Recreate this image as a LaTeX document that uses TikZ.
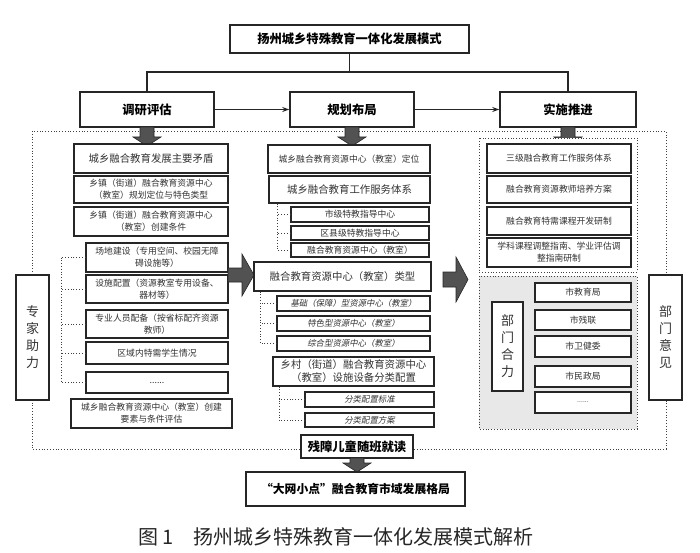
\documentclass[tikz,border=0pt]{standalone}
\usepackage{fontspec}
\setmainfont{Noto Sans CJK SC}
\newfontfamily\slfont[FakeSlant=0.2]{Noto Sans CJK SC}
\usetikzlibrary{arrows.meta}
\newcommand{\bx}[7]{\node[#1,minimum width={#4pt-#2pt},minimum height={#5pt-#3pt}] (#6) at ({(#2+#4)/2},{(#3+#5)/2}) {#7};}
\newcommand{\darr}[3]{\filldraw[blockarrow] ({#1-7},{#2}) -- ({#1+7},{#2}) -- ({#1+7},{#3-9}) -- ({#1+14},{#3-9}) -- ({#1},{#3}) -- ({#1-14},{#3-9}) -- ({#1-7},{#3-9}) -- cycle;}
\tikzset{
  box/.style={draw=black!85,line width=1.1pt,fill=white,inner sep=0pt,align=center,text=black!80},
  mainbox/.style={box,line width=1.5pt,text=black,font=\bfseries\fontsize{12.3}{14}\selectfont},
  big/.style={box,font=\fontsize{10.4}{13}\selectfont},
  small/.style={box,font=\fontsize{8.8}{12}\selectfont},
  slant/.style={box,font=\slfont\fontsize{8.4}{10}\selectfont},
  vbox/.style={box,font=\fontsize{13}{17}\selectfont},
  dotline/.style={dotted,line width=0.8pt,draw=black!75},
  conn/.style={line width=1.1pt,draw=black!85},
  blockarrow/.style={fill=black!68,draw=black!85,line width=0.6pt},
}
\begin{document}
\begin{tikzpicture}[x=1pt,y=-1pt]
\useasboundingbox (0,0) rectangle (700,553);
% top
\bx{mainbox}{230}{25}{469}{53}{top}{扬州城乡特殊教育一体化发展模式}
\bx{mainbox}{80}{92}{214}{127}{yan}{调研评估}
\bx{mainbox}{290}{92}{414}{127}{gui}{规划布局}
\bx{mainbox}{500}{92}{636}{127}{shi}{实施推进}
\coordinate (hy) at (0,72);
\draw[conn] (top.south) -- (top.south |- hy) -| (yan.north);
\draw[conn] (top.south |- hy) -| (shi.north);
\draw[conn,-{Stealth[length=7pt,width=5pt]}] (yan.east) -- (gui.west);
\draw[conn,-{Stealth[length=7pt,width=5pt]}] (gui.east) -- (shi.west);
% big frame
\draw[dotline] (32,131) rectangle (666,449);
\darr{147}{127}{146}
\darr{352}{127}{146}
\darr{568}{127}{146}
% left column
\bx{big}{74}{144}{228}{173}{L1}{城乡融合教育发展主要矛盾}
\bx{small}{74}{176}{228}{203}{L2}{乡镇（街道）融合教育资源中心\\（教室）规划定位与特色类型}
\bx{small}{74}{207}{228}{236}{L3}{乡镇（街道）融合教育资源中心\\（教室）创建条件}
\bx{small}{86}{243}{228}{272}{L4}{场地建设（专用空间、校园无障\\碍设施等）}
\bx{small}{86}{275}{228}{303}{L5}{设施配置（资源教室专用设备、\\器材等）}
\bx{small}{86}{310}{228}{338}{L6}{专业人员配备（按省标配齐资源\\教师）}
\bx{small}{86}{342}{228}{364}{L7}{区域内特需学生情况}
\bx{small}{86}{372}{228}{393}{L8}{......}
\bx{small}{71}{399}{232}{428}{L9}{城乡融合教育资源中心（教室）创建\\要素与条件评估}
\bx{vbox}{16}{275}{49}{400}{zj}{专\\家\\助\\力}
\coordinate (lbx) at (61,0);
\draw[dotline] (L4.west -| lbx) -- (L8.west -| lbx);
\foreach \n in {L4,L5,L6,L7,L8} \draw[dotline] (\n.west) -- (\n.west -| lbx);
% right-pointing block arrows
\filldraw[blockarrow] (228,268) -- (242,268) -- (242,254) -- (254,275) -- (242,296) -- (242,282) -- (228,282) -- cycle;
\filldraw[blockarrow] (443,272) -- (456,272) -- (456,257) -- (468,279.5) -- (456,302) -- (456,287) -- (443,287) -- cycle;
% middle column
\bx{small}{268}{145}{430}{173}{M1}{城乡融合教育资源中心（教室）定位}
\bx{big}{269}{176}{430}{203}{M2}{城乡融合教育工作服务体系}
\bx{small}{291}{207}{429}{222}{M3}{市级特教指导中心}
\bx{small}{291}{226}{429}{240}{M4}{区县级特教指导中心}
\bx{small}{291}{243}{429}{257}{M5}{融合教育资源中心（教室）}
\coordinate (mbx1) at (277,0);
\draw[dotline] (M2.south -| mbx1) -- (M5.west -| mbx1);
\foreach \n in {M3,M4,M5} \draw[dotline] (\n.west) -- (\n.west -| mbx1);
\bx{big}{254}{262}{431}{291}{M6}{融合教育资源中心（教室）类型}
\bx{slant}{277}{296}{430}{311}{M7}{基础（保障）型资源中心（教室）}
\bx{slant}{277}{316}{430}{331}{M8}{特色型资源中心（教室）}
\bx{slant}{277}{336}{430}{351}{M9}{综合型资源中心（教室）}
\coordinate (mbx2) at (260,0);
\draw[dotline] (M6.south -| mbx2) -- (M9.west -| mbx2);
\foreach \n in {M7,M8,M9} \draw[dotline] (\n.west) -- (\n.west -| mbx2);
\bx{big}{273}{357}{434}{386}{M10}{乡村（街道）融合教育资源中心\\（教室）设施设备分类配置}
\bx{slant}{305}{392}{434}{407}{M11}{分类配置标准}
\bx{slant}{305}{413}{434}{427}{M12}{分类配置方案}
\coordinate (mbx3) at (279,0);
\draw[dotline] (M10.south -| mbx3) -- (M12.west -| mbx3);
\foreach \n in {M11,M12} \draw[dotline] (\n.west) -- (\n.west -| mbx3);
% right column
\draw[dotline,fill=white] (479,138) rectangle (637,272);
\bx{small}{487}{144}{631}{173}{R1}{三级融合教育工作服务体系}
\bx{small}{487}{176}{631}{203}{R2}{融合教育资源教师培养方案}
\bx{small}{487}{207}{631}{235}{R3}{融合教育特需课程开发研制}
\bx{small}{487}{238}{631}{267}{R4}{学科课程调整指南、学业评估调\\整指南研制}
\draw[dotline,fill=black!9] (479,276) rectangle (637,429);
\bx{vbox}{492}{302}{523}{391}{bm}{部\\门\\合\\力}
\bx{small}{535}{283}{631}{302}{G1}{市教育局}
\bx{small}{535}{310}{631}{330}{G2}{市残联}
\bx{small}{535}{336}{631}{357}{G3}{市卫健委}
\bx{small}{535}{366}{631}{387}{G4}{市民政局}
\bx{small,font=\fontsize{7}{8}\selectfont}{535}{392}{631}{413}{G5}{......}
\bx{vbox}{649}{275}{682}{400}{yj}{部\\门\\意\\见}
% bottom
\bx{mainbox}{301}{435}{413}{458}{cz}{残障儿童随班就读}
\darr{357}{458}{472}
\bx{mainbox,font=\bfseries\fontsize{11.8}{14}\selectfont}{246}{472}{465}{506}{dw}{“大网小点”融合教育市域发展格局}
\node[font=\fontsize{20}{22}\selectfont,text=black!85] (cap) at (336,537) {图\,1\hspace{1em}扬州城乡特殊教育一体化发展模式解析};
\end{tikzpicture}
\end{document}
